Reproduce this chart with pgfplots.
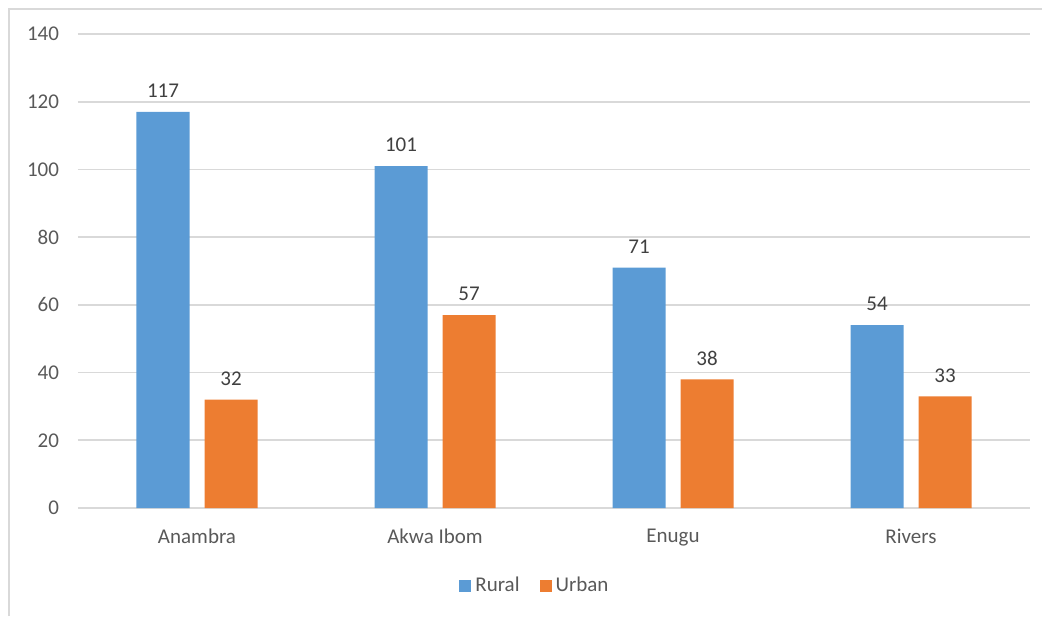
\documentclass[border=0pt]{standalone}
\usepackage{pgfplots}
\pgfplotsset{compat=1.18}
\usepackage{fontspec}
\setmainfont{Carlito}
\definecolor{rural}{HTML}{5B9BD5}
\definecolor{urban}{HTML}{ED7D31}
\definecolor{gridc}{HTML}{D9D9D9}
\definecolor{tickc}{HTML}{595959}
\definecolor{labc}{HTML}{404040}
\begin{document}
\begin{tikzpicture}
\useasboundingbox (-39pt,-54pt) rectangle (482pt,254pt);
\draw[gridc, line width=0.8pt] (-34.5pt,-54pt) -- (-34.5pt,249.5pt) -- (482pt,249.5pt);
\begin{axis}[
  at={(0,0)}, anchor=south west,
  scale only axis, width=476pt, height=237pt,
  ybar=7.5pt, bar width=26.5pt,
  xmin=-0.5, xmax=3.5, ymin=0, ymax=140,
  xtick={0,1,2,3}, xticklabels={Anambra, Akwa Ibom, Enugu, Rivers},
  ytick={0,20,...,140},
  ymajorgrids, grid style={gridc, line width=0.8pt},
  axis x line*=bottom, axis y line*=left,
  x axis line style={gridc, line width=0.8pt, -},
  y axis line style={draw=none},
  major tick length=0pt,
  tick label style={font=\fontsize{10.5}{12}\selectfont, text=tickc},
  xticklabel style={yshift=-7pt},
  yticklabel style={xshift=-6pt},
  /pgf/number format/assume math mode=true,
  nodes near coords,
  every node near coord/.append style={font=\fontsize{10.5}{12}\selectfont, text=labc, yshift=3.5pt},
  legend style={at={(0.481,-0.164)}, anchor=center, draw=none, legend columns=2,
    font=\fontsize{10.5}{12}\selectfont, text=tickc,
    /tikz/every even column/.append style={column sep=8pt}},
  legend image code/.code={\fill[#1] (0pt,-3pt) rectangle (6pt,3pt);},
]
\addplot[fill=rural, draw=none] coordinates {(0,117) (1,101) (2,71) (3,54)};
\addplot[fill=urban, draw=none] coordinates {(0,32) (1,57) (2,38) (3,33)};
\legend{Rural, Urban}
\end{axis}
\end{tikzpicture}
\end{document}
